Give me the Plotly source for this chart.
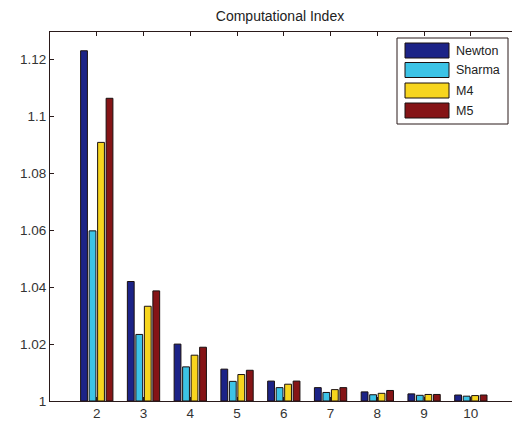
import plotly.graph_objects as go

# Computational index per method, for n = 2..10
n_values = [2, 3, 4, 5, 6, 7, 8, 9, 10]
methods = ["Newton", "Sharma", "M4", "M5"]
newton = [1.1231, 1.0420, 1.0200, 1.0112, 1.0070, 1.0047, 1.0032, 1.0025, 1.0021]
sharma = [1.0598, 1.0234, 1.0120, 1.0069, 1.0047, 1.0030, 1.0022, 1.0020, 1.0017]
m4 = [1.0909, 1.0333, 1.0161, 1.0093, 1.0059, 1.0040, 1.0027, 1.0023, 1.0019]
m5 = [1.1064, 1.0387, 1.0189, 1.0108, 1.0070, 1.0047, 1.0037, 1.0023, 1.0021]
series = [newton, sharma, m4, m5]
colors = ["#1c2387", "#3cc3e6", "#f7d51e", "#851416"]

y_ticks = [1, 1.02, 1.04, 1.06, 1.08, 1.1, 1.12]
y_tick_text = ["1", "1.02", "1.04", "1.06", "1.08", "1.1", "1.12"]

fig = go.Figure()
for name, vals, col in zip(methods, series, colors):
    fig.add_trace(go.Bar(
        x=n_values, y=[v - 1 for v in vals], base=1, name=name,
        marker=dict(color=col, line=dict(color="#1a1010", width=1)),
        showlegend=False,
    ))

W, H = 512, 421
L, R, T, B = 50, 0, 32, 20
pw, ph = W - L - R, H - T - B


def px(x):
    return (x - L) / pw


def py(y):
    return (H - B - y) / ph


# Legend drawn as a boxed key with wide swatches
shapes = [dict(type="rect", xref="paper", yref="paper",
               x0=px(397), x1=px(508), y0=py(124), y1=py(38),
               line=dict(color="#2a1a1a", width=1), fillcolor="white", layer="above")]
annotations = []
row_tops = [43, 62.5, 83, 103]
for name, col, top in zip(methods, colors, row_tops):
    shapes.append(dict(type="rect", xref="paper", yref="paper",
                       x0=px(405), x1=px(449), y0=py(top + 15), y1=py(top),
                       line=dict(color="#1a1010", width=1), fillcolor=col, layer="above"))
    annotations.append(dict(xref="paper", yref="paper", x=px(454), y=py(top + 7.5),
                            text=name, showarrow=False, xanchor="left", yanchor="middle",
                            font=dict(family="Liberation Sans, Arial", size=12.5, color="#222")))

fig.update_layout(
    width=W, height=H,
    margin=dict(l=L, r=R, t=T, b=B),
    paper_bgcolor="white", plot_bgcolor="white",
    barmode="group", bargap=0.273, bargroupgap=0.2,
    title=dict(text="Computational Index", x=280 / W, xanchor="center",
               y=1 - 16 / H, yanchor="middle",
               font=dict(family="Liberation Sans, Arial", size=14, color="#222")),
    font=dict(family="Liberation Sans, Arial", size=13.5, color="#333"),
    shapes=shapes, annotations=annotations,
)
fig.update_xaxes(range=[1, 10.88], tickvals=n_values, ticks="inside", ticklen=4,
                 tickcolor="#2a1a1a", showline=True, linecolor="#2a1a1a", linewidth=1,
                 mirror="ticks", showgrid=False, zeroline=False)
fig.update_yaxes(range=[1, 1.1297], tickvals=y_ticks, ticktext=y_tick_text,
                 ticks="inside", ticklen=4, tickcolor="#2a1a1a", showline=True,
                 linecolor="#2a1a1a", linewidth=1, mirror=False, showgrid=False,
                 zeroline=False)

fig.write_html("out.html")
